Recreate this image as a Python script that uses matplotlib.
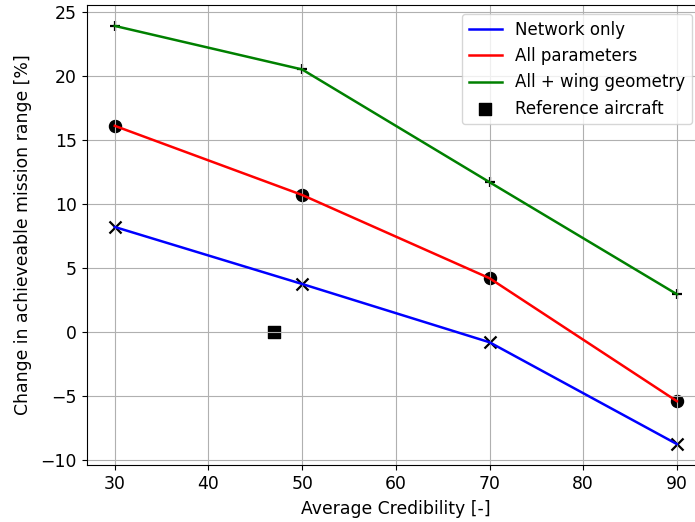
import matplotlib
matplotlib.use("Agg")
import matplotlib.pyplot as plt

credibility = [30, 50, 70, 90]
network_only = [8.2, 3.75, -0.8, -8.75]
all_params = [16.1, 10.7, 4.2, -5.4]
all_wing = [23.9, 20.5, 11.7, 2.95]
ref_x = [47]
ref_y = [0.0]

FS = 12.4
fig, ax = plt.subplots(figsize=(6.95, 5.22), dpi=100)

ax.scatter(credibility, network_only, marker='x', color='black', s=75, linewidths=1.6)
ax.scatter(credibility, all_params, marker='o', color='black', s=75)
ax.scatter(credibility, all_wing, marker='+', color='black', s=55, linewidths=1.6)
ax.plot(credibility, network_only, color='blue', lw=1.8, label='Network only')
ax.plot(credibility, all_params, color='red', lw=1.8, label='All parameters')
ax.plot(credibility, all_wing, color='green', lw=1.8, label='All + wing geometry')
ax.scatter(ref_x, ref_y, marker='s', color='black', s=75, label='Reference aircraft')

ax.grid(True)
ax.set_xlabel('Average Credibility [-]', fontsize=FS, labelpad=5.5)
ax.set_ylabel('Change in achieveable mission range [%]', fontsize=FS, labelpad=6)
ax.tick_params(labelsize=FS)
fig.subplots_adjust(left=0.1247, right=1.0144, top=0.9904, bottom=0.1092)
ax.legend(loc='upper right', fontsize=12, bbox_to_anchor=(692/695, 1 - 14/522),
          bbox_transform=fig.transFigure, borderaxespad=0)
fig.savefig('out.png', dpi=100)
